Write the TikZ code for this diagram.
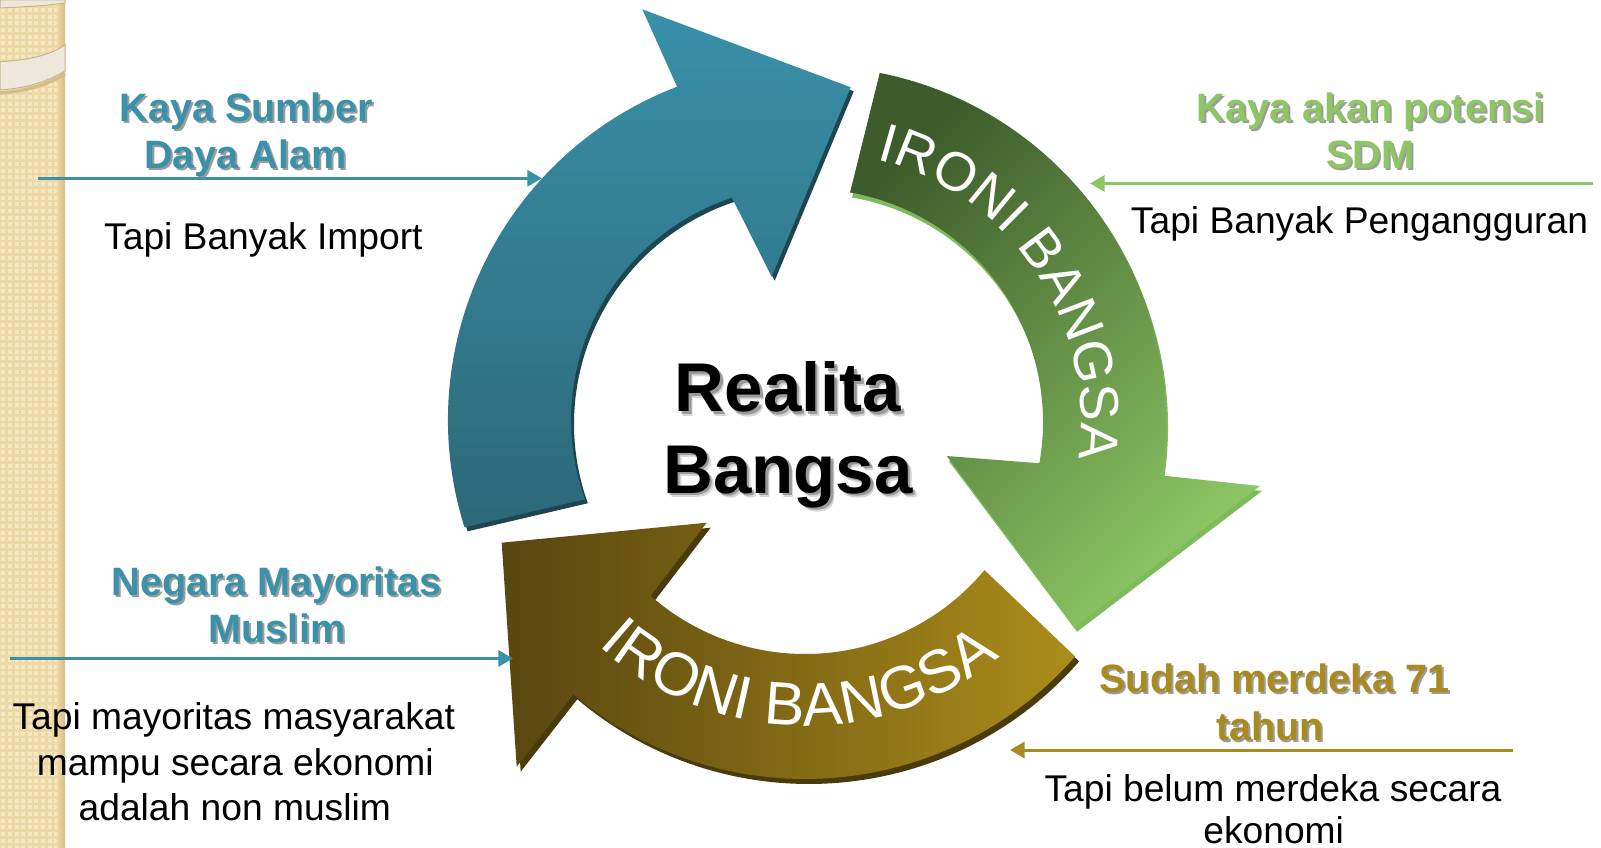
\documentclass[tikz,border=0pt]{standalone}
\usepackage{fontspec}
\setmainfont{Liberation Sans}
\usetikzlibrary{arrows.meta,calc,decorations.text}
\definecolor{tealH}{HTML}{3A91AA}
\definecolor{greenH}{HTML}{8DC663}
\definecolor{goldH}{HTML}{A88A1E}
\definecolor{tealTop}{HTML}{3990A9}
\definecolor{tealBot}{HTML}{2C6878}
\definecolor{tealSide}{HTML}{1D4650}
\definecolor{grnDark}{HTML}{3E5C2B}
\definecolor{grnLight}{HTML}{8CC664}
\definecolor{grnSide}{HTML}{7EBB5D}
\definecolor{brnDark}{HTML}{574610}
\definecolor{brnLight}{HTML}{AC8C1A}
\definecolor{brnSide}{HTML}{4A3B0B}
\definecolor{stripBase}{HTML}{EDD9A8}
\definecolor{stripTile}{HTML}{F6E7C0}
\definecolor{stripEdge}{HTML}{D4BC86}
\definecolor{ringFill}{HTML}{EDE8DB}
\definecolor{ringLine}{HTML}{C6B68C}
\definecolor{shadowGray}{HTML}{9C9C9C}
\newcommand\headline[5]{%
  \node[heading, text=shadowGray] (#1s) at (#2+2,#3+2) {#5};
  \node[heading, text=#4] (#1) at (#2,#3) {#5};}
\begin{document}
\begin{tikzpicture}[x=0.75pt,y=-0.75pt,
  heading/.style={font=\fontsize{29.7}{35}\selectfont\bfseries, anchor=base, inner sep=0pt},
  body/.style={font=\fontsize{27.9}{33}\selectfont, anchor=base, inner sep=0pt, text=black},
  big/.style={font=\fontsize{51.75}{62}\selectfont\bfseries, anchor=base, inner sep=0pt},
  pointer/.style={line width=2.25pt, -{Triangle[length=11pt,width=12pt]}},
]
\useasboundingbox (0,0) rectangle (1601,848);
\fill[white] (0,0) rectangle (1601,848);
% ---- left textured strip
\fill[stripBase] (0,0) rectangle (65,848);
\foreach \i in {0,...,9}{\foreach \j in {0,...,126}{\fill[stripTile] (\i*6.6+1.3,\j*6.7+1.3) rectangle ++(4,4);}}
\shade[left color=stripBase, right color=stripEdge] (57,0) rectangle (65,848);
% ---- ring at top left
\fill[ringFill, draw=ringLine, line width=0.75pt] (0,0) -- (65,0) -- (65,3) .. controls (40,6) .. (0,8) -- cycle;
\draw[stripEdge, line width=2.5pt] (0,93) .. controls (30,91) and (50,83) .. (65,74);
\fill[ringFill, draw=ringLine, line width=0.75pt] (0,61.7) .. controls (30,60) and (50,55) .. (65,45) -- (65,71) .. controls (50,80) and (30,88) .. (0,90) -- cycle;
% ---- circular arrows
\coordinate (C) at (805,420);
\coordinate (G) at (810,422);
\def\tealpath{($(C)+(162.5:357)$) -- ($(C)+(160.2:234)$) arc[start angle=160.2,end angle=251.8,radius=234] -- (771.7,276.7) -- (850.7,87.3) -- (642.3,9.3) -- ($(C)+(249:357)$) arc[start angle=249,end angle=162.5,radius=357] -- cycle}
\def\greenpath{($(G)+(-78.7:356)$) arc[start angle=-78.7,end angle=8.65,radius=356] -- (1260,486) -- (1075,626.7) -- (946.7,456) -- ($(G)+(10.2:233)$) arc[start angle=10.2,end angle=-80.1,radius=233] -- cycle}
\def\brownpath{($(C)+(39.9:234)$) arc[start angle=39.9,end angle=131.3,radius=234] -- (706.7,522.7) -- (501.7,542.7) -- (516.7,766.7) -- ($(C)+(130.2:359)$) arc[start angle=130.2,end angle=41.2,radius=359] -- cycle}
\fill[tealSide, transform canvas={shift={(3,4)}}] \tealpath;
\shade[top color=tealTop, bottom color=tealBot] \tealpath;
\fill[grnSide, transform canvas={shift={(2,5)}}] \greenpath;
\shade[top color=grnDark, bottom color=grnLight, shading angle=45] \greenpath;
\fill[brnSide, transform canvas={shift={(4,5)}}] \brownpath;
\shade[left color=brnDark, right color=brnLight] \brownpath;
% ---- text along the arrows
\path[decorate, decoration={text along path, text align=center, text color=white,
  text={|\fontsize{41}{41}\selectfont\color{white}|IRONI BANGSA}}]
  ($(G)+(-94:271)$) arc[start angle=-94,end angle=26,radius=271];
\path[decorate, decoration={text along path, text align=center, text color=white,
  text={|\fontsize{45.5}{45.5}\selectfont\color{white}|IRONI BANGSA}}]
  ($(C)+(151.5:306)$) arc[start angle=151.5,end angle=31.5,radius=306];
% ---- centre title
\node[big, text=black!45, opacity=0.35] (r1t) at (792,416) {Realita};
\node[big, text=black!55, opacity=0.6] (r1s) at (790.5,414) {Realita};
\node[big, text=black] (r1) at (788,411.7) {Realita};
\node[big, text=black!45, opacity=0.35] (r2t) at (792,497.5) {Bangsa};
\node[big, text=black!55, opacity=0.6] (r2s) at (790.5,495.5) {Bangsa};
\node[big, text=black] (r2) at (788,493.3) {Bangsa};
% ---- headings
\headline{h1}{246}{122}{tealH}{Kaya Sumber}
\headline{h1b}{245.5}{168.5}{tealH}{Daya Alam}
\headline{h2}{1370.5}{122}{greenH}{Kaya akan potensi}
\headline{h2b}{1370}{168.5}{greenH}{SDM}
\headline{h3}{277}{595}{tealH}{Negara Mayoritas}
\headline{h3b}{277}{642}{tealH}{Muslim}
\headline{h4}{1274.5}{692}{goldH}{Sudah merdeka 71}
\headline{h4b}{1270}{740}{goldH}{tahun}
% ---- body texts
\node[body] (b1) at (263.4,250) {Tapi Banyak Import};
\node[body] (b2) at (1359.5,234) {Tapi Banyak Pengangguran};
\node[body] (b3a) at (233.8,729) {Tapi mayoritas masyarakat};
\node[body] (b3b) at (235.3,775) {mampu secara ekonomi};
\node[body] (b3c) at (234.8,820) {adalah non muslim};
\node[body] (b4a) at (1273,801) {Tapi belum merdeka secara};
\node[body] (b4b) at (1273.7,843) {ekonomi};
% ---- pointer lines
\coordinate (p1s) at (38,178.3);   \coordinate (p1e) at (542,178.3);
\coordinate (p2s) at (1593,183.5); \coordinate (p2e) at (1090,183.5);
\coordinate (p3s) at (10,658.5);   \coordinate (p3e) at (513,658.5);
\coordinate (p4s) at (1513,750);   \coordinate (p4e) at (1010,750);
\draw[pointer, tealH] (p1s) -- (p1e);
\draw[pointer, greenH] (p2s) -- (p2e);
\draw[pointer, tealH] (p3s) -- (p3e);
\draw[pointer, goldH] (p4s) -- (p4e);
\end{tikzpicture}
\end{document}
